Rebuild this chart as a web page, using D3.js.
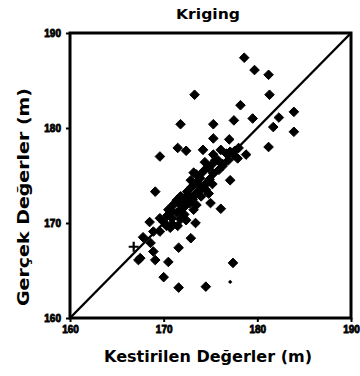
<!DOCTYPE html>
<html>
<head>
<meta charset="utf-8">
<script src="https://cdn.jsdelivr.net/npm/d3@7"></script>
<style>
  body { margin: 0; background: #fff; }
  svg { display: block; font-family: "DejaVu Sans", sans-serif; }
</style>
</head>
<body>
<div id="chart"></div>
<script>
// axis ticks
const ticks = [160, 170, 180, 190];

const estimated = [
  178.6, 179.7, 181.2, 181.3, 173.3, 178.2, 183.9, 171.8, 175.3, 177.5,
  179.5, 182.3, 181.7, 183.9, 175.3, 177.0, 181.2, 171.5, 172.4, 174.2,
  169.6, 177.1, 178.0, 178.8, 175.5, 176.3, 174.7, 177.1, 169.1, 173.2,
  175.0, 176.1, 173.4, 172.9, 171.6, 169.1, 170.5, 170.0, 171.6, 174.5,
  177.4, 167.3, 167.8, 168.6, 168.5, 168.9, 169.6, 167.5, 168.9,
  170.0, 170.4, 170.7, 171.0, 171.4, 171.8, 172.2, 172.5, 172.9, 173.2,
  173.6, 173.9, 174.2, 174.8, 175.2, 175.8, 176.7, 177.6, 170.3, 170.9,
  171.5, 170.9, 171.4, 171.9, 172.3, 172.8, 173.1, 173.4, 173.7, 174.0,
  174.5, 174.9, 175.3, 175.9, 176.3, 176.9, 177.5, 170.5, 171.6, 172.6,
  173.5, 173.2, 172.2, 171.8, 174.0, 174.5, 175.2, 172.9, 173.5, 174.4,
  175.3, 177.9, 169.6, 170.7, 172.4, 176.1, 174.8
];
const actual = [
  187.4, 186.1, 185.6, 183.5, 183.5, 182.4, 181.7, 180.4, 180.4, 180.8,
  181.0, 181.1, 180.1, 179.6, 178.9, 178.8, 178.0, 177.9, 177.6, 177.7,
  177.0, 177.5, 177.9, 177.2, 176.6, 176.2, 175.9, 174.5, 173.3, 175.3,
  172.1, 171.5, 170.0, 168.4, 167.4, 166.1, 165.9, 164.3, 163.2, 163.3,
  165.8, 166.1, 168.5, 167.9, 170.1, 169.1, 169.1, 166.3, 167.0,
  170.1, 170.8, 171.4, 171.9, 172.4, 172.8, 172.5, 173.3, 173.7, 174.0,
  174.3, 174.7, 175.4, 175.8, 176.2, 176.6, 177.3, 177.6, 169.7, 169.9,
  169.7, 170.5, 171.1, 171.4, 171.8, 172.1, 172.5, 173.0, 173.3, 173.7,
  174.1, 174.6, 175.2, 175.6, 176.0, 176.6, 177.1, 171.4, 172.1, 173.0,
  171.9, 171.4, 170.9, 170.4, 172.8, 173.5, 174.1, 174.5, 175.1, 176.4,
  177.2, 176.8, 170.5, 169.5, 170.3, 177.7, 173.1
];
// odd small marks
const smallEst = [177.1];
const smallAct = [163.8];
const crossEst = [166.8];
const crossAct = [167.5];

const W = 360, H = 376;
const svg = d3.select('#chart').append('svg')
  .attr('width', W)
  .attr('height', H);

const x = d3.scaleLinear().domain([160, 190]).range([70, 351]);
const y = d3.scaleLinear().domain([160, 190]).range([318, 33]);

// diagonal 1:1 line
svg.append('line')
  .attr('x1', x(160)).attr('y1', y(160))
  .attr('x2', x(190)).attr('y2', y(190))
  .attr('stroke', '#000')
  .attr('stroke-width', 2.4);

// points
const diamond = r => `M0,${-r}L${r},0L0,${r}L${-r},0Z`;
const pts = estimated.map((v, i) => ({ x: v, y: actual[i] }));

svg.selectAll('.pt')
  .data(pts)
  .enter().append('path')
  .attr('class', 'pt')
  .attr('d', diamond(4.8))
  .attr('transform', d => `translate(${x(d.x)},${y(d.y)})`)
  .attr('fill', '#000')
  .attr('stroke', '#000')
  .attr('stroke-width', 1)
  .attr('stroke-linejoin', 'round');

svg.selectAll('.sm')
  .data(smallEst.map((v, i) => ({ x: v, y: smallAct[i] })))
  .enter().append('path')
  .attr('d', diamond(2.2))
  .attr('transform', d => `translate(${x(d.x)},${y(d.y)})`)
  .attr('fill', '#000');

crossEst.forEach((v, i) => {
  const g = svg.append('g').attr('transform', `translate(${x(v)},${y(crossAct[i])})`);
  g.append('path').attr('d', 'M-5,0H5M0,-5V5').attr('stroke', '#000').attr('stroke-width', 2.2);
});

// frame
svg.append('rect')
  .attr('x', x(160)).attr('y', y(190))
  .attr('width', x(190) - x(160))
  .attr('height', y(160) - y(190))
  .attr('fill', 'none')
  .attr('stroke', '#000')
  .attr('stroke-width', 3);

// axes
const xAxis = svg.append('g')
  .attr('transform', `translate(0,${y(160)})`)
  .call(d3.axisBottom(x).tickValues(ticks).tickSize(4).tickPadding(4));
const yAxis = svg.append('g')
  .attr('transform', `translate(${x(160)},0)`)
  .call(d3.axisLeft(y).tickValues(ticks).tickSize(4).tickPadding(5));

[xAxis, yAxis].forEach(a => {
  a.select('.domain').remove();
  a.selectAll('line').attr('stroke', '#000').attr('stroke-width', 2);
  a.selectAll('text')
    .attr('font-size', 10)
    .attr('font-weight', 'bold')
    .attr('fill', '#000')
    .attr('stroke', '#000')
    .attr('stroke-width', 0.8);
});

// titles
svg.append('text')
  .attr('x', 208).attr('y', 19)
  .attr('text-anchor', 'middle')
  .attr('font-size', 14)
  .attr('font-weight', 'bold')
  .attr('textLength', 64)
  .attr('lengthAdjust', 'spacingAndGlyphs')
  .text('Kriging');

svg.append('text')
  .attr('x', 208).attr('y', 362)
  .attr('text-anchor', 'middle')
  .attr('font-size', 15)
  .attr('font-weight', 'bold')
  .attr('textLength', 208)
  .attr('lengthAdjust', 'spacingAndGlyphs')
  .text('Kestirilen Değerler (m)');

svg.append('text')
  .attr('transform', 'translate(29,197) rotate(-90)')
  .attr('text-anchor', 'middle')
  .attr('font-size', 15)
  .attr('font-weight', 'bold')
  .attr('textLength', 218)
  .attr('lengthAdjust', 'spacingAndGlyphs')
  .text('Gerçek Değerler (m)');
</script>
</body>
</html>
